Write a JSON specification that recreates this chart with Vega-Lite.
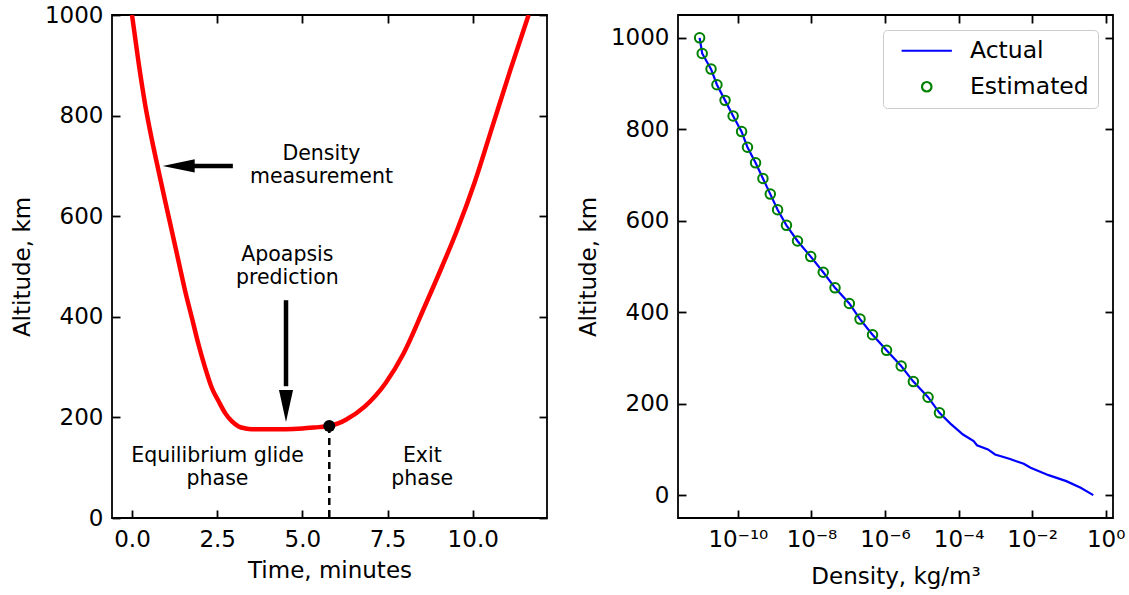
{
  "$schema": "https://vega.github.io/schema/vega-lite/v6.json",
  "background": "white",
  "padding": {"left": 10, "top": 3, "right": 5, "bottom": 5},
  "spacing": 131,
  "bounds": "flush",
  "resolve": {"scale": {"color": "independent", "shape": "independent"}, "legend": {"color": "independent", "shape": "independent"}},
  "config": {
    "font": "DejaVu Sans",
    "view": {"stroke": "black", "strokeWidth": 1.8},
    "axis": {
      "domain": false, "grid": false, "ticks": true, "tickSize": -8, "tickWidth": 1.8, "tickColor": "black",
      "labelFont": "DejaVu Sans", "labelFontSize": 23, "labelColor": "black",
      "titleFont": "DejaVu Sans", "titleFontSize": 23, "titleFontWeight": "normal", "titleColor": "black",
      "labelFlush": false, "labelOverlap": false
    },
    "axisX": {"labelPadding": 18, "titlePadding": 8},
    "axisY": {"labelPadding": 17, "titlePadding": 10}
  },
  "datasets": {
    "curve": [
      {"t": 0.0, "alt": 1000}, {"t": 0.196, "alt": 904}, {"t": 0.391, "alt": 820}, {"t": 0.587, "alt": 751},
      {"t": 0.783, "alt": 689}, {"t": 0.978, "alt": 628.6}, {"t": 1.174, "alt": 569.2}, {"t": 1.369, "alt": 509.6},
      {"t": 1.565, "alt": 449.9}, {"t": 1.761, "alt": 397.0}, {"t": 1.956, "alt": 343.9}, {"t": 2.152, "alt": 297.6},
      {"t": 2.347, "alt": 258}, {"t": 2.543, "alt": 232}, {"t": 2.739, "alt": 208}, {"t": 2.934, "alt": 192},
      {"t": 3.13, "alt": 182}, {"t": 3.33, "alt": 178}, {"t": 3.521, "alt": 176.5}, {"t": 4.108, "alt": 176.3},
      {"t": 4.51, "alt": 176.5}, {"t": 5.0, "alt": 178}, {"t": 5.35, "alt": 180}, {"t": 5.79, "alt": 183},
      {"t": 6.05, "alt": 188}, {"t": 6.29, "alt": 196}, {"t": 6.82, "alt": 221}, {"t": 7.44, "alt": 268},
      {"t": 7.97, "alt": 327}, {"t": 8.6, "alt": 422}, {"t": 9.1, "alt": 500}, {"t": 9.54, "alt": 572},
      {"t": 10.06, "alt": 668}, {"t": 10.59, "alt": 781}, {"t": 11.11, "alt": 892}, {"t": 11.64, "alt": 1000}
    ],
    "glide_end": [{"t": 5.79, "alt": 183}],
    "shafts": [
      {"t": 2.96, "t2": 1.8, "alt": 700, "alt2": 700},
      {"t": 4.52, "t2": 4.52, "alt": 433, "alt2": 262}
    ],
    "head_left": [{"t": 0.9, "alt": 700}],
    "head_down": [{"t": 4.52, "alt": 191}],
    "notes": [
      {"t": 5.56, "alt": 712, "label": "Density\nmeasurement"},
      {"t": 4.56, "alt": 511, "label": "Apoapsis\nprediction"},
      {"t": 2.51, "alt": 111, "label": "Equilibrium glide\nphase"},
      {"t": 8.52, "alt": 111, "label": "Exit\nphase"}
    ],
    "profile": [
      {"rho": 9.1e-12, "alt": 1000, "series": "Actual"}, {"rho": 1.07e-11, "alt": 965.8, "series": "Actual"},
      {"rho": 1.86e-11, "alt": 931.7, "series": "Actual"}, {"rho": 2.69e-11, "alt": 897.5, "series": "Actual"},
      {"rho": 4.47e-11, "alt": 863.3, "series": "Actual"}, {"rho": 7.41e-11, "alt": 829.2, "series": "Actual"},
      {"rho": 1.26e-10, "alt": 795, "series": "Actual"}, {"rho": 1.82e-10, "alt": 760.8, "series": "Actual"},
      {"rho": 3.02e-10, "alt": 726.7, "series": "Actual"}, {"rho": 4.79e-10, "alt": 692.5, "series": "Actual"},
      {"rho": 7.59e-10, "alt": 658.3, "series": "Actual"}, {"rho": 1.2e-9, "alt": 624.2, "series": "Actual"},
      {"rho": 2.09e-9, "alt": 590, "series": "Actual"}, {"rho": 4.17e-9, "alt": 555.8, "series": "Actual"},
      {"rho": 9.55e-9, "alt": 521.7, "series": "Actual"}, {"rho": 2.09e-8, "alt": 487.5, "series": "Actual"},
      {"rho": 4.37e-8, "alt": 453.3, "series": "Actual"}, {"rho": 1.07e-7, "alt": 419.2, "series": "Actual"},
      {"rho": 2.09e-7, "alt": 385, "series": "Actual"}, {"rho": 4.57e-7, "alt": 350.8, "series": "Actual"},
      {"rho": 1.1e-6, "alt": 316.7, "series": "Actual"}, {"rho": 2.75e-6, "alt": 282.5, "series": "Actual"},
      {"rho": 5.89e-6, "alt": 248.3, "series": "Actual"}, {"rho": 1.48e-5, "alt": 214.2, "series": "Actual"},
      {"rho": 3.02e-5, "alt": 180, "series": "Actual"}, {"rho": 6.0e-5, "alt": 156.5, "series": "Actual"},
      {"rho": 1.32e-4, "alt": 132.5, "series": "Actual"}, {"rho": 2.57e-4, "alt": 118, "series": "Actual"},
      {"rho": 3.16e-4, "alt": 109, "series": "Actual"}, {"rho": 6.3e-4, "alt": 100, "series": "Actual"},
      {"rho": 9.8e-4, "alt": 89, "series": "Actual"}, {"rho": 2.4e-3, "alt": 79.5, "series": "Actual"},
      {"rho": 5.9e-3, "alt": 68.5, "series": "Actual"}, {"rho": 9.1e-3, "alt": 60, "series": "Actual"},
      {"rho": 2.8e-2, "alt": 43.7, "series": "Actual"}, {"rho": 8.5e-2, "alt": 30.6, "series": "Actual"},
      {"rho": 0.209, "alt": 16, "series": "Actual"}, {"rho": 0.46, "alt": 0, "series": "Actual"}
    ],
    "estimated": [
      {"rho": 9.1e-12, "alt": 1000, "series": "Estimated"}, {"rho": 1.07e-11, "alt": 965.8, "series": "Estimated"},
      {"rho": 1.86e-11, "alt": 931.7, "series": "Estimated"}, {"rho": 2.69e-11, "alt": 897.5, "series": "Estimated"},
      {"rho": 4.47e-11, "alt": 863.3, "series": "Estimated"}, {"rho": 7.41e-11, "alt": 829.2, "series": "Estimated"},
      {"rho": 1.26e-10, "alt": 795, "series": "Estimated"}, {"rho": 1.82e-10, "alt": 760.8, "series": "Estimated"},
      {"rho": 3.02e-10, "alt": 726.7, "series": "Estimated"}, {"rho": 4.79e-10, "alt": 692.5, "series": "Estimated"},
      {"rho": 7.59e-10, "alt": 658.3, "series": "Estimated"}, {"rho": 1.2e-9, "alt": 624.2, "series": "Estimated"},
      {"rho": 2.09e-9, "alt": 590, "series": "Estimated"}, {"rho": 4.17e-9, "alt": 555.8, "series": "Estimated"},
      {"rho": 9.55e-9, "alt": 521.7, "series": "Estimated"}, {"rho": 2.09e-8, "alt": 487.5, "series": "Estimated"},
      {"rho": 4.37e-8, "alt": 453.3, "series": "Estimated"}, {"rho": 1.07e-7, "alt": 419.2, "series": "Estimated"},
      {"rho": 2.09e-7, "alt": 385, "series": "Estimated"}, {"rho": 4.57e-7, "alt": 350.8, "series": "Estimated"},
      {"rho": 1.1e-6, "alt": 316.7, "series": "Estimated"}, {"rho": 2.75e-6, "alt": 282.5, "series": "Estimated"},
      {"rho": 5.89e-6, "alt": 248.3, "series": "Estimated"}, {"rho": 1.48e-5, "alt": 214.2, "series": "Estimated"},
      {"rho": 3.02e-5, "alt": 180, "series": "Estimated"}
    ]
  },
  "hconcat": [
    {
      "width": 435,
      "height": 503,
      "resolve": {"axis": {"x": "independent", "y": "independent"}},
      "layer": [
        {
          "data": {"name": "curve"},
          "mark": {"type": "line", "color": "#ff0000", "strokeWidth": 4.5, "clip": true, "interpolate": "monotone"},
          "encoding": {
            "x": {"field": "t", "type": "quantitative", "scale": {"domain": [-0.587, 12.18], "nice": false, "zero": false},
                  "axis": {"orient": "bottom", "values": [0, 2.5, 5, 7.5, 10], "format": ".1f", "title": "Time, minutes"}},
            "y": {"field": "alt", "type": "quantitative", "scale": {"domain": [0, 1000], "nice": false, "zero": false},
                  "axis": {"orient": "left", "values": [0, 200, 400, 600, 800, 1000], "format": "d", "title": "Altitude, km"}}
          }
        },
        {
          "data": {"name": "glide_end"},
          "mark": {"type": "rule", "color": "black", "strokeWidth": 2.5, "strokeDash": [7, 5]},
          "encoding": {
            "x": {"field": "t", "type": "quantitative",
                  "axis": {"orient": "top", "labels": false, "title": null, "values": [0, 2.5, 5, 7.5, 10]}},
            "y": {"field": "alt", "type": "quantitative",
                  "axis": {"orient": "right", "labels": false, "title": null, "values": [0, 200, 400, 600, 800, 1000]}},
            "y2": {"datum": 0}
          }
        },
        {
          "data": {"name": "glide_end"},
          "mark": {"type": "point", "filled": true, "color": "black", "size": 144, "opacity": 1},
          "encoding": {
            "x": {"field": "t", "type": "quantitative", "axis": null},
            "y": {"field": "alt", "type": "quantitative", "axis": null}
          }
        },
        {
          "data": {"name": "shafts"},
          "mark": {"type": "rule", "color": "black", "strokeWidth": 4.5},
          "encoding": {
            "x": {"field": "t", "type": "quantitative", "axis": null},
            "x2": {"field": "t2"},
            "y": {"field": "alt", "type": "quantitative", "axis": null},
            "y2": {"field": "alt2"}
          }
        },
        {
          "data": {"name": "head_left"},
          "mark": {"type": "point", "filled": true, "color": "black", "size": 1024, "opacity": 1, "strokeWidth": 0,
                   "shape": "M0,0L2,-0.42L2,0.42Z"},
          "encoding": {
            "x": {"field": "t", "type": "quantitative", "axis": null},
            "y": {"field": "alt", "type": "quantitative", "axis": null}
          }
        },
        {
          "data": {"name": "head_down"},
          "mark": {"type": "point", "filled": true, "color": "black", "size": 1024, "opacity": 1, "strokeWidth": 0,
                   "shape": "M0,0L-0.44,-2L0.44,-2Z"},
          "encoding": {
            "x": {"field": "t", "type": "quantitative", "axis": null},
            "y": {"field": "alt", "type": "quantitative", "axis": null}
          }
        },
        {
          "data": {"name": "notes"},
          "mark": {"type": "text", "font": "DejaVu Sans", "fontSize": 20.5, "color": "black", "align": "center",
                   "baseline": "alphabetic", "lineBreak": "\n", "lineHeight": 23.3},
          "encoding": {
            "x": {"field": "t", "type": "quantitative", "axis": null},
            "y": {"field": "alt", "type": "quantitative", "axis": null},
            "text": {"field": "label"}
          }
        }
      ]
    },
    {
      "width": 435,
      "height": 503,
      "resolve": {"axis": {"x": "independent", "y": "independent"}},
      "layer": [
        {
          "data": {"name": "profile"},
          "mark": {"type": "line", "strokeWidth": 2.2},
          "encoding": {
            "x": {"field": "rho", "type": "quantitative",
                  "scale": {"type": "log", "domain": [2.35e-12, 1.58], "nice": false},
                  "axis": {"orient": "bottom", "values": [1e-10, 1e-8, 1e-6, 0.0001, 0.01, 1], "titlePadding": 14,
                           "labelExpr": "'10' + replace(replace(replace(replace(replace(replace(replace('' + round(log(datum.value) / LN10), '-', '⁻'), '0', '⁰'), '1', '¹'), '2', '²'), '4', '⁴'), '6', '⁶'), '8', '⁸')",
                           "title": "Density, kg/m³"}},
            "y": {"field": "alt", "type": "quantitative", "scale": {"domain": [-50, 1050], "nice": false, "zero": false},
                  "axis": {"orient": "left", "values": [0, 200, 400, 600, 800, 1000], "format": "d", "title": "Altitude, km"}},
            "order": {"field": "alt", "sort": "descending"},
            "color": {"field": "series", "type": "nominal",
                      "scale": {"domain": ["Actual", "Estimated"], "range": ["#0000ff", "#008000"]},
                      "legend": {"orient": "top-right", "offset": 15, "title": null, "symbolSize": 90, "symbolStrokeWidth": 2.2,
                                 "symbolOffset": 23, "labelOffset": 31.5, "labelFontSize": 23.5, "labelFont": "DejaVu Sans",
                                 "labelColor": "black", "padding": 9, "rowPadding": 11, "fillColor": "white",
                                 "strokeColor": "#cccccc", "cornerRadius": 4}}
          }
        },
        {
          "data": {"name": "estimated"},
          "mark": {"type": "point", "filled": false, "size": 90, "strokeWidth": 2, "opacity": 1},
          "encoding": {
            "x": {"field": "rho", "type": "quantitative",
                  "axis": {"orient": "top", "labels": false, "title": null, "values": [1e-10, 1e-8, 1e-6, 0.0001, 0.01, 1]}},
            "y": {"field": "alt", "type": "quantitative",
                  "axis": {"orient": "right", "labels": false, "title": null, "values": [0, 200, 400, 600, 800, 1000]}},
            "color": {"field": "series", "type": "nominal",
                      "legend": {"orient": "top-right", "offset": 15, "title": null, "symbolSize": 90, "symbolStrokeWidth": 2.2,
                                 "symbolOffset": 23, "labelOffset": 31.5, "labelFontSize": 23.5, "labelFont": "DejaVu Sans",
                                 "labelColor": "black", "padding": 9, "rowPadding": 11, "fillColor": "white",
                                 "strokeColor": "#cccccc", "cornerRadius": 4}},
            "shape": {"field": "series", "type": "nominal",
                      "scale": {"domain": ["Actual", "Estimated"], "range": ["M-5.3,0L5.3,0", "circle"]},
                      "legend": {"orient": "top-right", "offset": 15, "title": null, "symbolSize": 90, "symbolStrokeWidth": 2.2,
                                 "symbolOffset": 23, "labelOffset": 31.5, "labelFontSize": 23.5, "labelFont": "DejaVu Sans",
                                 "labelColor": "black", "padding": 9, "rowPadding": 11, "fillColor": "white",
                                 "strokeColor": "#cccccc", "cornerRadius": 4}}
          }
        }
      ]
    }
  ]
}
